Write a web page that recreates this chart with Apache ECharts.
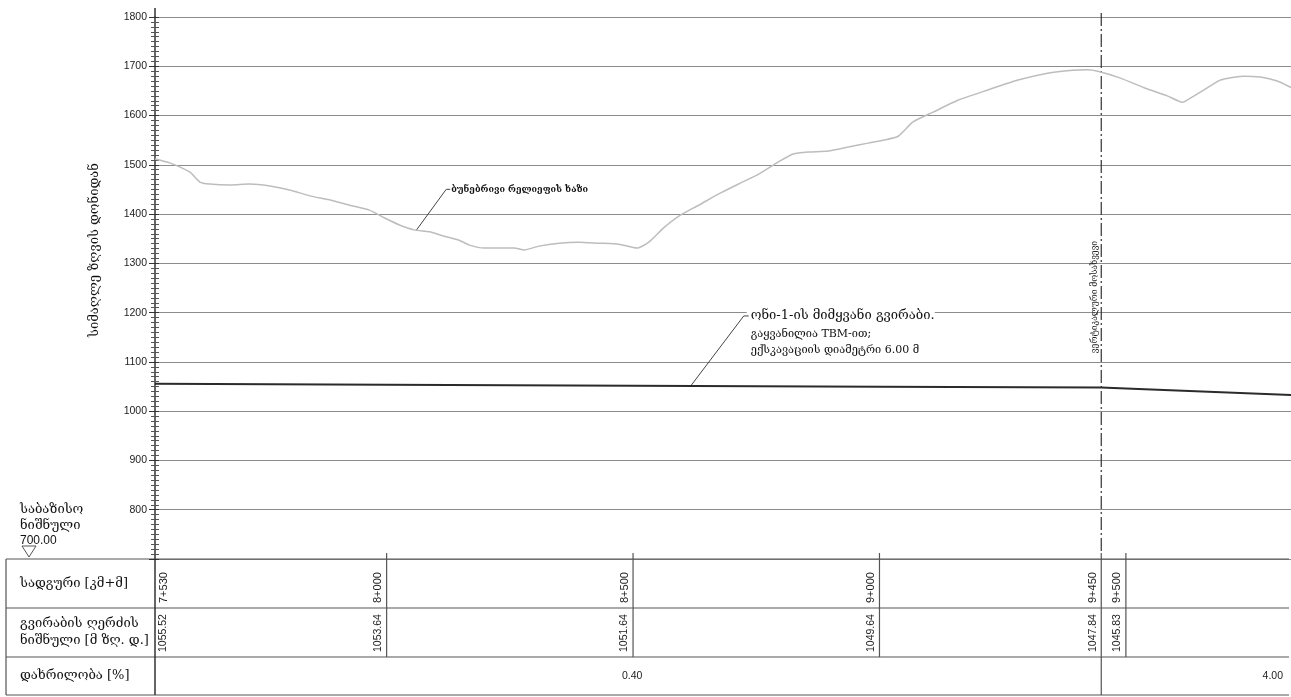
<!DOCTYPE html>
<html>
<head>
<meta charset="utf-8">
<script src="https://cdn.jsdelivr.net/npm/echarts@6/dist/echarts.min.js"></script>
<style>
html, body { margin: 0; padding: 0; background: #fff; }
#chart { width: 1291px; height: 697px; }
</style>
</head>
<body>
<div id="chart"></div>
<script>
// Natural ground profile (chainage in m, elevation in m a.s.l.)
const groundChainage = [7530, 7560, 7601, 7621, 7641, 7682, 7722, 7763, 7803, 7844, 7884, 7925, 7965, 7996,
  8026, 8056, 8087, 8117, 8147, 8168, 8198, 8228, 8259, 8279, 8309, 8350, 8390, 8431, 8471, 8508,
  8532, 8562, 8593, 8633, 8674, 8714, 8755, 8795, 8825, 8856, 8896, 8937, 8977, 9008, 9038, 9068,
  9109, 9159, 9220, 9281, 9341, 9392, 9420, 9443, 9489, 9538, 9584, 9615, 9635, 9665, 9692, 9740,
  9773, 9807, 9835];
const groundElev = [1512, 1504, 1485, 1465, 1461, 1459, 1461, 1457, 1449, 1437, 1429, 1418, 1408, 1392,
  1378, 1368, 1364, 1355, 1347, 1337, 1331, 1331, 1331, 1327, 1335, 1341, 1343, 1341, 1339, 1331,
  1343, 1372, 1396, 1418, 1441, 1461, 1481, 1506, 1522, 1526, 1528, 1536, 1544, 1550, 1558, 1587,
  1607, 1631, 1652, 1672, 1686, 1692, 1693, 1690, 1676, 1656, 1640, 1627, 1638, 1656, 1672, 1680,
  1678, 1670, 1657];

// Tunnel axis: stations, station labels, axis elevations
const stations = [7530, 8000, 8500, 9000, 9450, 9500];
const stationLabels = ['7+530', '8+000', '8+500', '9+000', '9+450', '9+500'];
const axisElev = [1055.52, 1053.64, 1051.64, 1049.64, 1047.84, 1045.83];
const tunnelEnd = [9835, 1032.6];

// Gradient segments
const gradeBreaks = [7530, 9450, 9835];
const gradeLabels = ['0.40', '4.00'];

// Elevation axis ticks
const elevTicks = [800, 900, 1000, 1100, 1200, 1300, 1400, 1500, 1600, 1700, 1800];

const GEO = "'DejaVu Serif', 'DejaVu Sans', serif";
const NUM = "'Liberation Sans', Arial, sans-serif";
const INK = '#333';

const chart = echarts.init(document.getElementById('chart'), null, { renderer: 'canvas' });

const groundData = groundChainage.map((c, i) => [c, groundElev[i]]);
const tunnelData = stations.map((c, i) => [c, axisElev[i]]).concat([tunnelEnd]);

chart.setOption({
  animation: false,
  grid: { left: 155, right: 0, top: 17, bottom: 138 },
  xAxis: { type: 'value', min: 7530, max: 9835, show: false },
  yAxis: [
    {
      type: 'value', min: 700, max: 1800, interval: 100,
      axisLine: { show: true, lineStyle: { color: INK, width: 1.5 } },
      axisTick: { show: true, length: 6, lineStyle: { color: INK } },
      minorTick: { show: true, splitNumber: 10, length: 4, lineStyle: { color: '#555' } },
      axisLabel: {
        color: '#222', fontSize: 10.5, fontFamily: NUM, margin: 8,
        formatter: v => (elevTicks.indexOf(v) >= 0 ? String(v) : '')
      },
      splitLine: { show: true, lineStyle: { color: '#8c8c8c', width: 1 } }
    },
    {
      type: 'value', min: 700, max: 1800, interval: 100, position: 'left',
      axisLine: { show: false },
      axisTick: { show: true, inside: true, length: 4, lineStyle: { color: INK } },
      minorTick: { show: true, splitNumber: 10, length: 4, lineStyle: { color: '#555' } },
      axisLabel: { show: false },
      splitLine: { show: false }
    }
  ],
  series: [
    {
      name: 'ground', type: 'line', data: groundData, showSymbol: false, smooth: 0.2,
      lineStyle: { color: '#bdbdbd', width: 1.5 }, z: 3
    },
    {
      name: 'tunnel', type: 'line', data: tunnelData, showSymbol: false,
      lineStyle: { color: '#2b2b2b', width: 2 }, z: 4
    }
  ]
});

function px(x, y) { return chart.convertToPixel({ xAxisIndex: 0, yAxisIndex: 0 }, [x, y]); }
function line(x1, y1, x2, y2, extra) {
  return Object.assign({
    type: 'line', silent: true,
    shape: { x1, y1, x2, y2 },
    style: { stroke: INK, lineWidth: 1 }
  }, extra || {});
}
function text(x, y, str, style, extra) {
  return Object.assign({
    type: 'text', silent: true, x, y,
    style: Object.assign({ text: str, fill: '#111', fontFamily: GEO, fontSize: 12 }, style)
  }, extra || {});
}

const els = [];
const tTop = px(7530, 700)[1];
const r1 = tTop + 49, r2 = tTop + 98, r3 = tTop + 136;
const tLeft = 6, tRight = 1289;
const x0 = px(7530, 700)[0];

// table frame
[tTop, r1, r2, r3].forEach(y => els.push(line(tLeft, y, tRight, y, { style: { stroke: '#555', lineWidth: 1.2 } })));
els.push(line(tLeft, tTop, tLeft, r3, { style: { stroke: '#555', lineWidth: 1.2 } }));
els.push(line(x0, tTop, x0, r3, { style: { stroke: INK, lineWidth: 1.5 } }));

// row headings
els.push(text(20, (tTop + r1) / 2, 'სადგური [კმ+მ]', { verticalAlign: 'middle', fontSize: 13 }));
els.push(text(20, (r1 + r2) / 2 - 9, 'გვირაბის ღერძის', { verticalAlign: 'middle', fontSize: 13 }));
els.push(text(20, (r1 + r2) / 2 + 8, 'ნიშნული [მ ზღ. დ.]', { verticalAlign: 'middle', fontSize: 13 }));
els.push(text(20, (r2 + r3) / 2, 'დახრილობა [%]', { verticalAlign: 'middle', fontSize: 13 }));

// datum
els.push(text(20, 510, 'საბაზისო', { verticalAlign: 'middle', fontSize: 13 }));
els.push(text(20, 526, 'ნიშნული', { verticalAlign: 'middle', fontSize: 13 }));
els.push(text(20, 541, '700.00', { verticalAlign: 'middle', fontFamily: NUM, fontSize: 12 }));
els.push({
  type: 'polygon', silent: true,
  shape: { points: [[22, 546], [36, 546], [29, 557]] },
  style: { fill: 'none', stroke: '#555', lineWidth: 1 }
});

// station columns
stations.forEach((s, i) => {
  const x = px(s, 700)[0];
  if (i > 0) {
    const bottom = gradeBreaks.indexOf(s) >= 0 ? r3 : r2;
    els.push(line(x, tTop - 6, x, bottom, { style: { stroke: '#555', lineWidth: 1.2 } }));
  }
  const right = i === 0;
  const lx = right ? x + 3 : x - 3;
  const va = right ? 'top' : 'bottom';
  els.push(text(lx, r1 - 5, stationLabels[i],
    { fontFamily: NUM, fontSize: 11, align: 'left', verticalAlign: va, fill: '#222' },
    { rotation: Math.PI / 2 }));
  els.push(text(lx, r2 - 5, axisElev[i].toFixed(2),
    { fontFamily: NUM, fontSize: 10.5, align: 'left', verticalAlign: va, fill: '#222' },
    { rotation: Math.PI / 2 }));
});

// gradient row
const gx = gradeBreaks.map(g => px(g, 700)[0]);
els.push(text((gx[0] + gx[1]) / 2 + 4, (r2 + r3) / 2, gradeLabels[0],
  { fontFamily: NUM, fontSize: 10.5, align: 'center', verticalAlign: 'middle', fill: '#222' }));
els.push(text(gx[2] - 8, (r2 + r3) / 2, gradeLabels[1],
  { fontFamily: NUM, fontSize: 10.5, align: 'right', verticalAlign: 'middle', fill: '#222' }));

// vertical curve marker (dash-dot)
const xv = px(9450, 700)[0];
els.push(line(xv, 13, xv, tTop - 6, { style: { stroke: INK, lineWidth: 1.2, lineDash: [13, 3, 2, 3] } }));
els.push(text(xv - 6, 297, 'ვერტიკალური მოსახვევი',
  { fontSize: 8.5, align: 'center', verticalAlign: 'middle', fill: '#222' },
  { rotation: Math.PI / 2 }));

// top extension of the elevation axis
els.push(line(x0, 8, x0, 17, { style: { stroke: INK, lineWidth: 1.5 } }));

// annotation: natural ground
const g0 = px(8060, 1367);
els.push(line(g0[0], g0[1], g0[0] + 30, g0[1] - 41, { style: { stroke: '#444', lineWidth: 1 } }));
els.push(line(g0[0] + 30, g0[1] - 41, g0[0] + 34, g0[1] - 41, { style: { stroke: '#444', lineWidth: 1 } }));
els.push(text(g0[0] + 35, g0[1] - 41, 'ბუნებრივი რელიეფის ხაზი',
  { fontSize: 9, fontWeight: 'bold', verticalAlign: 'middle', fill: '#111' }));

// annotation: tunnel
const t0 = px(8617, 1051.2);
const ax = t0[0] + 53, ay = t0[1] - 70;
els.push({ type: 'rect', silent: true, shape: { x: ax + 3, y: ay - 8, width: 188, height: 52 }, style: { fill: '#fff' } });
els.push(line(t0[0], t0[1], ax, ay, { style: { stroke: '#444', lineWidth: 1 } }));
els.push(line(ax, ay, ax + 5, ay, { style: { stroke: '#444', lineWidth: 1 } }));
els.push(text(ax + 7, ay, 'ონი-1-ის მიმყვანი გვირაბი.', { fontSize: 13, verticalAlign: 'middle' }));
els.push(text(ax + 7, ay + 18, 'გაყვანილია TBM-ით;', { fontSize: 11, verticalAlign: 'middle' }));
els.push(text(ax + 7, ay + 34, 'ექსკავაციის დიამეტრი 6.00 მ', { fontSize: 11, verticalAlign: 'middle' }));

// elevation axis title
els.push(text(95, 250, 'სიმაღლე ზღვის დონიდან',
  { fontSize: 13, align: 'center', verticalAlign: 'middle' },
  { rotation: Math.PI / 2 }));

chart.setOption({ graphic: { elements: els } });
</script>
</body>
</html>
